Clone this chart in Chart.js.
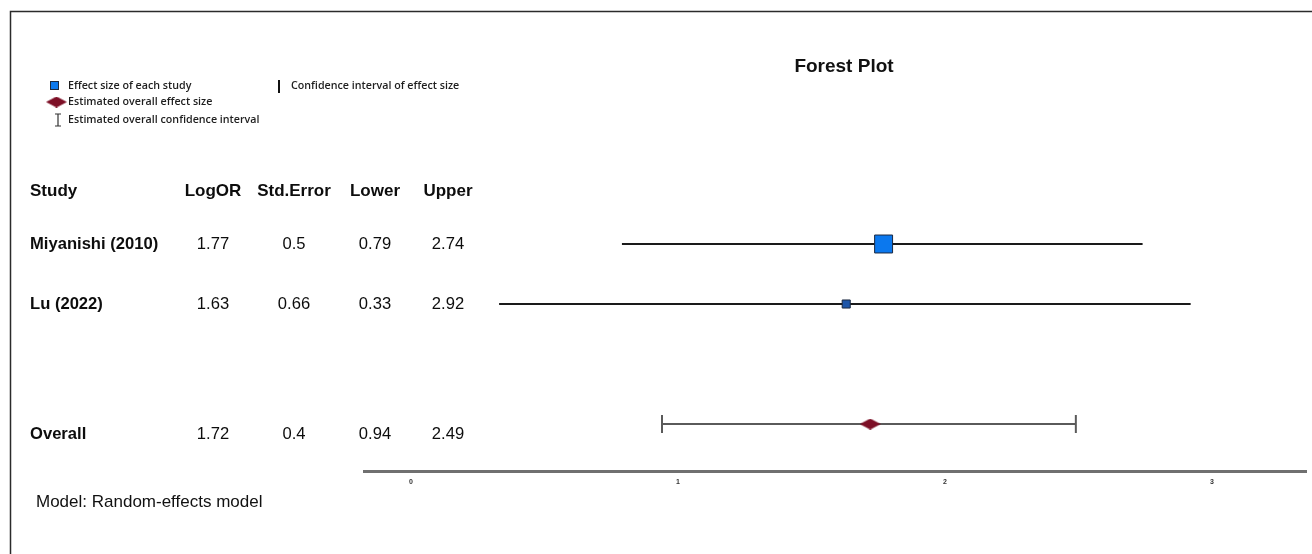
<!DOCTYPE html>
<html>
<head>
<meta charset="utf-8">
<title>Forest Plot</title>
<script src="https://cdn.jsdelivr.net/npm/chart.js@4.4.1/dist/chart.umd.min.js"></script>
<style>
  html, body { margin: 0; padding: 0; background: #ffffff; }
  #wrap { position: absolute; left: 0; top: 0; width: 1312px; height: 554px; }
  canvas { display: block; }
</style>
</head>
<body>
<div id="wrap"><canvas id="forest" width="1312" height="554"></canvas></div>
<script>
// ---- data ----
const columnHeaders = ['Study', 'LogOR', 'Std.Error', 'Lower', 'Upper'];
const studies = ['Miyanishi (2010)', 'Lu (2022)'];
const logOR = [1.77, 1.63];
const stdError = [0.5, 0.66];
const lower = [0.79, 0.33];
const upper = [2.74, 2.92];

const overallLabel = 'Overall';
const overallLogOR = [1.72];
const overallStdError = [0.4];
const overallLower = [0.94];
const overallUpper = [2.49];

const xTickValues = [0, 1, 2, 3];
const modelNote = 'Model: Random-effects model';
const legendLabels = [
  'Effect size of each study',
  'Estimated overall effect size',
  'Estimated overall confidence interval',
  'Confidence interval of effect size'
];

// ---- styling ----
const INK = '#1a1a1a';
const CI_GREY = '#5a5a5a';
const SQUARE_FILL = ['#0b78ee', '#1d55a8'];
const SQUARE_EDGE = '#1b2940';
const SQUARE_RADIUS = [12.7, 5.7];
const DIAMOND_FILL = '#7d0f26';
const TABLE_FONT = 'Liberation Sans, Arial, Helvetica, sans-serif';
const LEGEND_FONT = '"Open Sans", "Noto Sans", sans-serif';
const COL_CENTERS = [null, 213, 294, 375, 448];

// row index on the y scale: studies first, a blank row, then the pooled estimate
const studyRow = i => i;
const overallRow = studies.length + 1;

// wide diamond marker used for the pooled estimate
function makeDiamond(w, h, color) {
  const c = document.createElement('canvas');
  c.width = w; c.height = h;
  const g = c.getContext('2d');
  g.fillStyle = color;
  g.beginPath();
  g.moveTo(0, h / 2);
  g.lineTo(w / 2, 0);
  g.lineTo(w, h / 2);
  g.lineTo(w / 2, h);
  g.closePath();
  g.fill();
  return c;
}
const diamond = makeDiamond(21, 11, DIAMOND_FILL);

// ---- datasets ----
const datasets = [];

studies.forEach((name, i) => {
  datasets.push({
    label: name + ' CI',
    data: [{ x: lower[i], y: studyRow(i) }, { x: upper[i], y: studyRow(i) }],
    showLine: true,
    borderColor: INK,
    borderWidth: 2,
    pointRadius: 0,
    order: 5
  });
});

datasets.push({
  label: 'Overall CI',
  data: [{ x: overallLower[0], y: overallRow }, { x: overallUpper[0], y: overallRow }],
  showLine: true,
  borderColor: CI_GREY,
  borderWidth: 2,
  pointRadius: 0,
  order: 5
});

datasets.push({
  label: 'Overall CI caps',
  data: [{ x: overallLower[0], y: overallRow }, { x: overallUpper[0], y: overallRow }],
  showLine: false,
  pointStyle: 'line',
  rotation: 90,
  pointRadius: 9,
  borderColor: CI_GREY,
  borderWidth: 2,
  order: 4
});

datasets.push({
  label: 'Study effect',
  data: studies.map((s, i) => ({ x: logOR[i], y: studyRow(i) })),
  showLine: false,
  pointStyle: 'rect',
  pointRadius: SQUARE_RADIUS,
  backgroundColor: SQUARE_FILL,
  borderColor: SQUARE_EDGE,
  borderWidth: 1,
  order: 0
});

datasets.push({
  label: 'Overall effect',
  data: [{ x: overallLogOR[0], y: overallRow }],
  showLine: false,
  pointStyle: diamond,
  pointRadius: 10,
  order: 0
});

// ---- text, legend and frame drawn around the plot ----
const decorations = {
  id: 'forestDecorations',
  beforeDraw(chart) {
    const ctx = chart.ctx;
    ctx.save();
    ctx.strokeStyle = '#2b2b2b';
    ctx.lineWidth = 1.5;
    ctx.beginPath();
    ctx.moveTo(10.5, 554);
    ctx.lineTo(10.5, 11.5);
    ctx.lineTo(1312, 11.5);
    ctx.stroke();
    ctx.restore();
  },
  afterDraw(chart) {
    const ctx = chart.ctx;
    const y = chart.scales.y;
    ctx.save();

    // title
    ctx.fillStyle = '#111';
    ctx.font = 'bold 19px ' + TABLE_FONT;
    ctx.textAlign = 'center';
    ctx.textBaseline = 'middle';
    ctx.fillText('Forest Plot', 844, 67);

    // legend
    ctx.font = '600 10.7px ' + LEGEND_FONT;
    ctx.textAlign = 'left';
    // square
    ctx.fillStyle = SQUARE_FILL[0];
    ctx.fillRect(50, 81, 9, 9);
    ctx.strokeStyle = SQUARE_EDGE;
    ctx.lineWidth = 1;
    ctx.strokeRect(50.5, 81.5, 8, 8);
    ctx.fillStyle = '#1e1e1e';
    ctx.fillText(legendLabels[0], 68, 86);
    // diamond
    ctx.drawImage(diamond, 46, 96.5);
    ctx.fillText(legendLabels[1], 68, 102);
    // I-beam
    ctx.strokeStyle = '#333';
    ctx.lineWidth = 1.2;
    ctx.beginPath();
    ctx.moveTo(58, 114); ctx.lineTo(58, 126);
    ctx.moveTo(55, 114); ctx.lineTo(61, 114);
    ctx.moveTo(55, 126); ctx.lineTo(61, 126);
    ctx.stroke();
    ctx.fillText(legendLabels[2], 68, 120);
    // vertical bar
    ctx.strokeStyle = '#111';
    ctx.lineWidth = 2;
    ctx.beginPath();
    ctx.moveTo(279, 80); ctx.lineTo(279, 93);
    ctx.stroke();
    ctx.fillText(legendLabels[3], 291, 86);

    // table header
    ctx.fillStyle = '#0d0d0d';
    ctx.font = 'bold 17px ' + TABLE_FONT;
    ctx.textAlign = 'left';
    ctx.fillText(columnHeaders[0], 30, 191);
    ctx.textAlign = 'center';
    for (let c = 1; c < columnHeaders.length; c++) {
      ctx.fillText(columnHeaders[c], COL_CENTERS[c], 191);
    }

    // table rows
    const drawRow = (label, values, py) => {
      ctx.font = 'bold 16.6px ' + TABLE_FONT;
      ctx.textAlign = 'left';
      ctx.fillText(label, 30, py);
      ctx.font = '16.6px ' + TABLE_FONT;
      ctx.textAlign = 'center';
      values.forEach((v, k) => ctx.fillText(String(v), COL_CENTERS[k + 1], py));
    };
    studies.forEach((name, i) => {
      drawRow(name, [logOR[i], stdError[i], lower[i], upper[i]],
              y.getPixelForValue(studyRow(i)));
    });
    drawRow(overallLabel,
            [overallLogOR[0], overallStdError[0], overallLower[0], overallUpper[0]],
            y.getPixelForValue(overallRow) + 10);

    // model note
    ctx.font = '17px ' + TABLE_FONT;
    ctx.textAlign = 'left';
    ctx.fillStyle = '#111';
    ctx.fillText(modelNote, 36, 502);

    ctx.restore();
  }
};

new Chart(document.getElementById('forest'), {
  type: 'scatter',
  data: { datasets },
  plugins: [decorations],
  options: {
    responsive: false,
    animation: false,
    events: [],
    layout: { autoPadding: false, padding: { left: 364, right: 6, top: 130, bottom: 63 } },
    plugins: {
      legend: { display: false },
      tooltip: { enabled: false },
      title: { display: false }
    },
    scales: {
      x: {
        type: 'linear',
        min: -0.176,
        max: 3.352,
        afterFit(scale) { scale.height = 20; },
        afterBuildTicks(scale) {
          scale.ticks = xTickValues.map(v => ({ value: v }));
        },
        grid: { display: false, drawTicks: false },
        border: { display: true, color: '#707070', width: 3 },
        ticks: {
          padding: 7,
          color: '#333',
          font: { size: 7, family: TABLE_FONT, weight: 'bold' }
        }
      },
      y: {
        type: 'linear',
        display: false,
        reverse: true,
        min: -1.9,
        max: 3.7833
      }
    }
  }
});
</script>
</body>
</html>
